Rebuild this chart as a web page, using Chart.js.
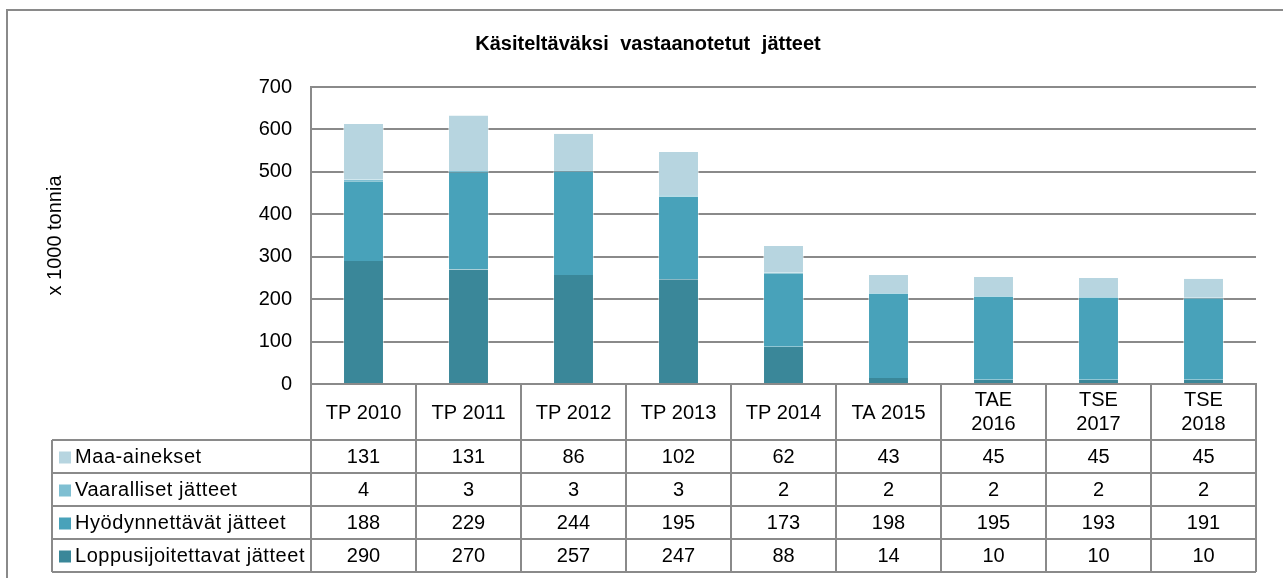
<!DOCTYPE html>
<html lang="fi">
<head>
<meta charset="utf-8">
<title>Käsiteltäväksi vastaanotetut jätteet</title>
<script src="https://cdn.jsdelivr.net/npm/chart.js@4/dist/chart.umd.min.js"></script>
<style>
    body { margin: 0; background: #fff; }
    #wrap { position: relative; width: 1283px; height: 578px; }
</style>
</head>
<body>
<div id="wrap"><canvas id="wasteChart"></canvas></div>
<script>
// data
const chartTitle = 'Käsiteltäväksi vastaanotetut jätteet';
const yTitle = 'x 1000 tonnia';
const categories = ['TP 2010', 'TP 2011', 'TP 2012', 'TP 2013', 'TP 2014', 'TA 2015', ['TAE', '2016'], ['TSE', '2017'], ['TSE', '2018']];
const maaAinekset = [131, 131, 86, 102, 62, 43, 45, 45, 45];
const vaaralliset = [4, 3, 3, 3, 2, 2, 2, 2, 2];
const hyodynnettavat = [188, 229, 244, 195, 173, 198, 195, 193, 191];
const loppusijoitettavat = [290, 270, 257, 247, 88, 14, 10, 10, 10];
const yTicks = [0, 100, 200, 300, 400, 500, 600, 700];

const FONT = '"Liberation Sans", Arial, sans-serif';
const GRID = '#8a8a8a';

// sarjat alhaalta ylös
const seriesList = [
    { label: 'Loppusijoitettavat jätteet', data: loppusijoitettavat, color: '#3a8799' },
    { label: 'Hyödynnettävät jätteet', data: hyodynnettavat, color: '#48a2ba' },
    { label: 'Vaaralliset jätteet', data: vaaralliset, color: '#7fbfd2' },
    { label: 'Maa-ainekset', data: maaAinekset, color: '#b7d5e0' }
];

const chartData = {
    labels: categories,
    datasets: seriesList.map(s => ({
        label: s.label,
        data: s.data,
        backgroundColor: s.color,
        borderColor: 'rgba(255,255,255,0.45)',
        borderWidth: { left: 1, right: 1, top: 0, bottom: 0 },
        borderSkipped: false,
        barPercentage: 0.39,
        categoryPercentage: 1
    }))
};

// taulukko kaavion alle + otsikko + kehys
const tablePlugin = {
    id: 'dataTable',
    beforeDraw(chart) {
        const ctx = chart.ctx;
        ctx.save();
        ctx.strokeStyle = GRID;
        ctx.lineWidth = 2;
        ctx.strokeRect(7, 10, 1400, 700);
        ctx.restore();
    },
    afterDraw(chart) {
        const ctx = chart.ctx;
        const xs = chart.scales.x;
        const area = chart.chartArea;
        const colW = xs.width / categories.length;
        const headTop = area.bottom;
        const rowTop = headTop + 56;
        const rowH = 33;
        const legendLeft = 52;
        const rows = seriesList.slice().reverse();
        const tableBottom = rowTop + rows.length * rowH;

        ctx.save();

        // otsikko
        ctx.fillStyle = '#000';
        ctx.font = 'bold 20px ' + FONT;
        ctx.textAlign = 'center';
        ctx.textBaseline = 'middle';
        ctx.wordSpacing = '6px';
        ctx.fillText(chartTitle, 648, 44);
        ctx.wordSpacing = '0px';

        // viivat
        ctx.strokeStyle = GRID;
        ctx.lineWidth = 2;
        ctx.beginPath();
        for (let i = 0; i <= categories.length; i++) {
            const x = xs.left + i * colW;
            ctx.moveTo(x, headTop);
            ctx.lineTo(x, tableBottom);
        }
        ctx.moveTo(legendLeft, rowTop);
        ctx.lineTo(legendLeft, tableBottom);
        for (let r = 0; r <= rows.length; r++) {
            const y = rowTop + r * rowH;
            ctx.moveTo(legendLeft, y);
            ctx.lineTo(xs.right, y);
        }
        ctx.stroke();

        // otsakerivi
        ctx.font = '20px ' + FONT;
        ctx.fillStyle = '#000';
        const headMid = headTop + 28;
        categories.forEach((c, i) => {
            const x = xs.getPixelForValue(i);
            if (Array.isArray(c)) {
                ctx.fillText(c[0], x, headMid - 12);
                ctx.fillText(c[1], x, headMid + 12);
            } else {
                ctx.fillText(c, x, headMid + 1);
            }
        });

        // rivit
        rows.forEach((s, r) => {
            const mid = rowTop + r * rowH + rowH / 2 + 1;
            ctx.fillStyle = s.color;
            ctx.fillRect(legendLeft + 7, mid - 6, 12, 12);
            ctx.fillStyle = '#000';
            ctx.textAlign = 'left';
            ctx.letterSpacing = '0.55px';
            ctx.fillText(s.label, legendLeft + 23, mid);
            ctx.letterSpacing = '0px';
            ctx.textAlign = 'center';
            s.data.forEach((v, i) => {
                ctx.fillText(String(v), xs.getPixelForValue(i), mid);
            });
        });

        ctx.restore();
    }
};

const config = {
    type: 'bar',
    data: chartData,
    options: {
        responsive: true,
        maintainAspectRatio: false,
        animation: false,
        layout: {
            padding: { top: 87, right: 27, left: 0, bottom: 0 }
        },
        plugins: {
            legend: { display: false },
            title: { display: false },
            tooltip: { enabled: false }
        },
        scales: {
            x: {
                stacked: true,
                grid: { display: false, drawTicks: false },
                border: { display: true, color: GRID, width: 2 },
                ticks: { display: false },
                afterFit(scale) { scale.height = 194; }
            },
            y: {
                stacked: true,
                min: 0,
                max: 700,
                afterBuildTicks(scale) { scale.ticks = yTicks.map(v => ({ value: v })); },
                grid: { color: GRID, lineWidth: 2, drawTicks: false },
                border: { display: true, color: GRID, width: 2 },
                ticks: {
                    color: '#000',
                    font: { family: FONT, size: 20 },
                    padding: 19
                },
                title: {
                    display: true,
                    text: yTitle,
                    color: '#000',
                    font: { family: FONT, size: 20 },
                    padding: { top: 43, bottom: 0 }
                },
                afterFit(scale) { scale.width = 311; }
            }
        }
    },
    plugins: [tablePlugin]
};

const ctx = document.getElementById('wasteChart').getContext('2d');
const wasteChart = new Chart(ctx, config);
</script>
</body>
</html>
